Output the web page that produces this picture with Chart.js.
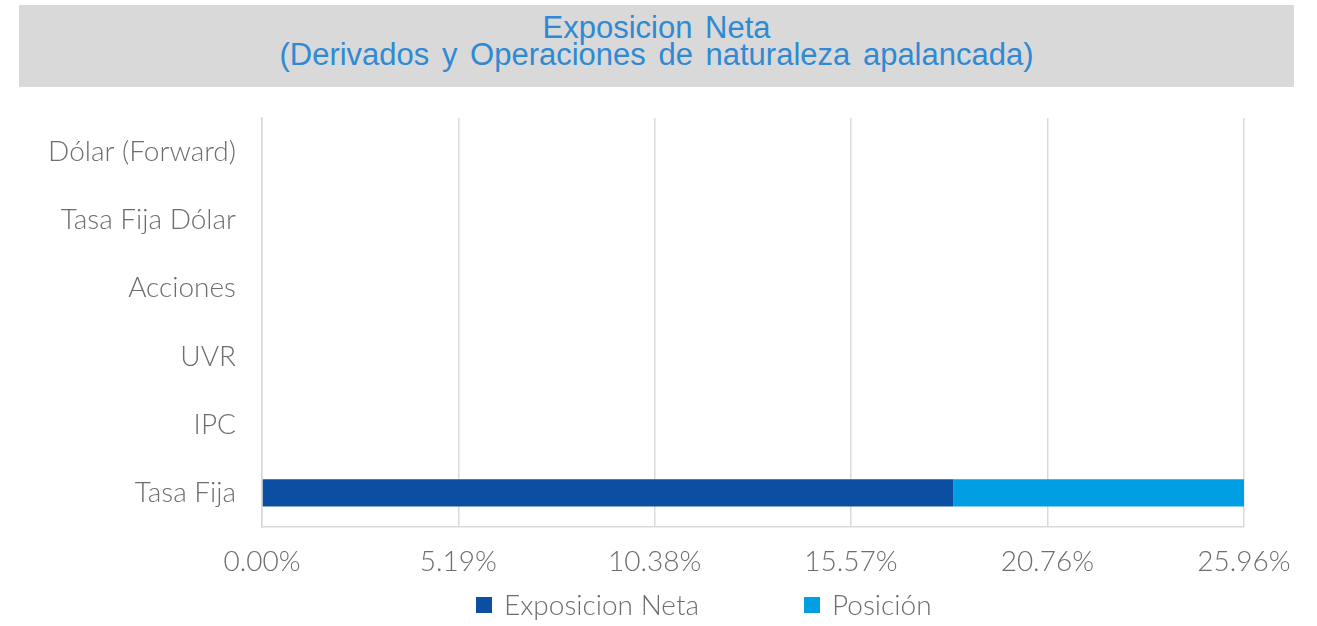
<!DOCTYPE html>
<html>
<head>
<meta charset="utf-8">
<script src="https://cdn.jsdelivr.net/npm/chart.js@4.4.1/dist/chart.umd.min.js"></script>
<style>
  html, body { margin: 0; padding: 0; background: #ffffff; }
  #wrap { position: relative; width: 1317px; height: 626px; }
  #title {
    position: absolute; left: 19px; top: 5px; width: 1275px; height: 82px;
    background: #d9d9d9; color: #2f8ad3; text-align: center;
    font-family: 'Liberation Sans', Arial, sans-serif; font-size: 31px;
    line-height: 27px; word-spacing: 4px;
    box-sizing: border-box; padding-top: 9px;
  }
  canvas { position: absolute; left: 0; top: 0; }
</style>
</head>
<body>
<div id="wrap">
  <canvas id="chart" width="1317" height="626"></canvas>
  <div id="title">Exposicion Neta<br>(Derivados y Operaciones de naturaleza apalancada)</div>
</div>
<script>
// data
const categories = ['Dólar (Forward)', 'Tasa Fija Dólar', 'Acciones', 'UVR', 'IPC', 'Tasa Fija'];
const exposicionNeta = [0, 0, 0, 0, 0, 18.28];
const posicion = [0, 0, 0, 0, 0, 7.68];
const seriesNames = ['Exposicion Neta', 'Posición'];
const xTicks = [0, 5.19, 10.38, 15.57, 20.76, 25.96];

const FONT = "Lato, 'Open Sans', sans-serif";
const TEXT = '#6e6e6e';

// legend drawn at fixed spots, like the original
const bottomLegend = {
  id: 'bottomLegend',
  afterDraw(chart, args, opts) {
    const ctx = chart.ctx;
    ctx.save();
    ctx.font = `300 28px ${FONT}`;
    ctx.textBaseline = 'middle';
    chart.data.datasets.forEach((ds, i) => {
      const x = opts.xs[i];
      ctx.fillStyle = ds.backgroundColor;
      ctx.fillRect(x, opts.y - 8, 16, 16);
      ctx.fillStyle = TEXT;
      ctx.fillText(ds.label, x + 28, opts.y + 1);
    });
    ctx.restore();
  }
};

new Chart(document.getElementById('chart'), {
  type: 'bar',
  data: {
    labels: categories,
    datasets: [
      { label: seriesNames[0], data: exposicionNeta, backgroundColor: '#0b4fa2' },
      { label: seriesNames[1], data: posicion, backgroundColor: '#009fe3' }
    ]
  },
  plugins: [bottomLegend],
  options: {
    indexAxis: 'y',
    responsive: false,
    animation: false,
    layout: { padding: { top: 118, right: 73, bottom: 49, left: 0 } },
    datasets: { bar: { barPercentage: 0.4, categoryPercentage: 1.0 } },
    plugins: {
      legend: { display: false },
      tooltip: { enabled: false },
      bottomLegend: { xs: [476, 804], y: 605 }
    },
    scales: {
      x: {
        stacked: true,
        min: 0,
        max: 25.96,
        afterBuildTicks: (scale) => { scale.ticks = xTicks.map(v => ({ value: v })); },
        afterFit: (scale) => { scale.height = 50; },
        ticks: {
          callback: (v) => v.toFixed(2) + '%',
          font: { family: FONT, size: 28, weight: '300' },
          color: TEXT,
          padding: 18,
          maxRotation: 0
        },
        grid: { color: '#d9d9d9', lineWidth: 1.5, drawTicks: false },
        border: { display: true, color: '#d9d9d9', width: 1.5 }
      },
      y: {
        stacked: true,
        afterFit: (scale) => { scale.width = 262; },
        ticks: {
          font: { family: FONT, size: 28, weight: '300' },
          color: TEXT,
          padding: 26
        },
        grid: { display: false, drawTicks: false },
        border: { display: true, color: '#d9d9d9', width: 1.5 }
      }
    }
  }
});
</script>
</body>
</html>
